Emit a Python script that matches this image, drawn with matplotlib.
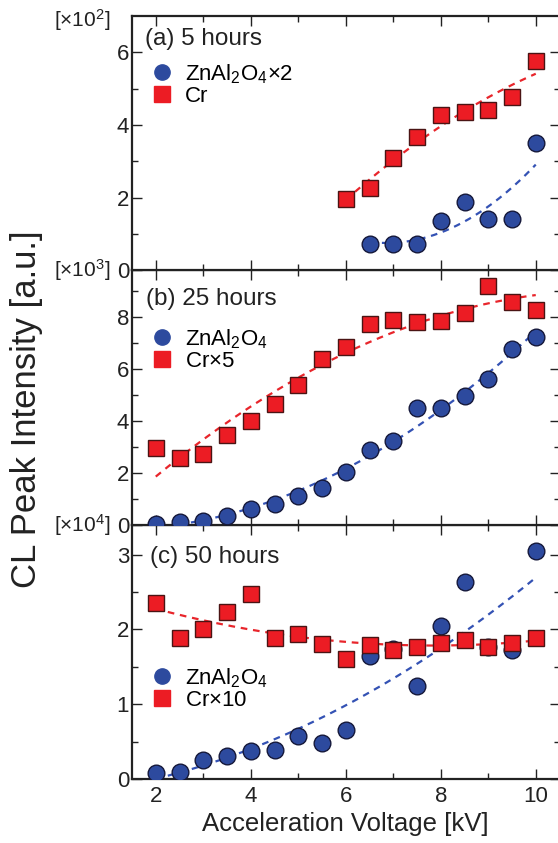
import numpy as np
import matplotlib.pyplot as plt
from matplotlib.lines import Line2D

plt.rcParams['font.family'] = ['Liberation Sans', 'DejaVu Sans']
plt.rcParams['mathtext.fontset'] = 'custom'
plt.rcParams['mathtext.rm'] = 'Liberation Sans'
plt.rcParams['mathtext.it'] = 'Liberation Sans'

# acceleration voltage [kV]
volt_a = [6.0, 6.5, 7.0, 7.5, 8.0, 8.5, 9.0, 9.5, 10.0]
volt = [2.0, 2.5, 3.0, 3.5, 4.0, 4.5, 5.0, 5.5, 6.0, 6.5, 7.0, 7.5, 8.0, 8.5, 9.0, 9.5, 10.0]

# (a) 5 hours  [x10^2]
cr_a = [1.97, 2.26, 3.10, 3.67, 4.29, 4.37, 4.42, 4.78, 5.76]
zn_a = [0.72, 0.72, 0.72, 1.37, 1.87, 1.41, 1.41, 3.51]   # from 6.5 kV

# (b) 25 hours [x10^3]
cr_b = [2.95, 2.57, 2.73, 3.44, 3.98, 4.66, 5.39, 6.39, 6.84, 7.73, 7.88, 7.82,
        7.86, 8.15, 9.20, 8.58, 8.28]
zn_b = [0.04, 0.12, 0.15, 0.32, 0.59, 0.81, 1.12, 1.41, 2.03, 2.86, 3.23, 4.51,
        4.51, 4.97, 5.61, 6.77, 7.25]

# (c) 50 hours [x10^4]
cr_c = [2.35, 1.89, 2.00, 2.23, 2.47, 1.89, 1.94, 1.81, 1.61, 1.79, 1.72, 1.77,
        1.82, 1.86, 1.77, 1.82, 1.89]
zn_c = [0.08, 0.10, 0.26, 0.31, 0.37, 0.39, 0.57, 0.48, 0.65, 1.64, 1.74, 1.24,
        2.04, 2.63, 1.77, 1.73, 3.05]

BLUE = '#2d4a9e'
RED = '#ec1c24'
BLUE_LINE = '#3452b4'
RED_LINE = '#e8252b'
INK = '#222222'


def fit_line(ax, x, y, color):
    # quadratic trend line through the read points
    x = np.asarray(x)
    p = np.polyfit(x, y, 2)
    xs = np.linspace(x.min(), x.max(), 200)
    ys = np.polyval(p, xs)
    ys = np.where(ys < 0, np.nan, ys)
    ax.plot(xs, ys, color=color, lw=1.6, ls=(0, (3.0, 2.6)), zorder=2)


def style_axes(ax, ylim, major, minor, bottom_labels):
    ax.set_xlim(1.5, 10.5)
    ax.set_ylim(*ylim)
    ax.set_xticks([2, 4, 6, 8, 10])
    ax.set_xticks([3, 5, 7, 9], minor=True)
    ax.set_yticks(major)
    ax.set_yticks(minor, minor=True)
    ax.tick_params(which='both', direction='in', top=True, right=True, width=1.0,
                   labelsize=16, colors=INK)
    ax.tick_params(which='major', length=7, pad=2)
    ax.tick_params(which='minor', length=4)
    ax.tick_params(axis='x', pad=5, labelbottom=bottom_labels)
    for s in ax.spines.values():
        s.set_linewidth(1.6)
        s.set_color(INK)


def scatter(ax, x, zn, cr):
    ax.plot(x[-len(zn):], zn, 'o', ms=12, mfc=BLUE, mec='#15183a', mew=1.0,
            zorder=3)
    ax.plot(x[-len(cr):], cr, 's', ms=11.5, mfc=RED, mec='#4a1414', mew=1.0,
            zorder=4)


def legend(ax, zn_label, cr_label, ypos):
    handles = [Line2D([], [], ls='none', marker='o', ms=11, mfc=BLUE, mec=BLUE),
               Line2D([], [], ls='none', marker='s', ms=12, mfc=RED, mec=RED)]
    ax.legend(handles, [zn_label, cr_label], loc='center left',
              bbox_to_anchor=(0.045, ypos), frameon=False, fontsize=16,
              handlelength=1.0, handletextpad=0.5, labelspacing=0.0,
              borderpad=0.0, borderaxespad=0.0)


def panel_text(ax, x, y, label, scale):
    ax.text(x, y, label, transform=ax.transAxes, fontsize=17.5,
            va='center', color=INK)
    ax.text(-0.05, 0.985 if scale == 2 else 1.0,
            r'[$\times$10$^%d$]' % scale, transform=ax.transAxes,
            fontsize=15, ha='right', va='center', color=INK)


fig = plt.figure(figsize=(5.58, 8.43), dpi=100)
L, W, H = 132 / 558, 427.5 / 558, 254.3 / 843
B0 = 64 / 843
ax_c = fig.add_axes([L, B0, W, H])
ax_b = fig.add_axes([L, B0 + H, W, H])
ax_a = fig.add_axes([L, B0 + 2 * H, W, H])

# (a)
fit_line(ax_a, volt_a, cr_a, RED_LINE)
fit_line(ax_a, volt_a[1:], zn_a, BLUE_LINE)
scatter(ax_a, np.array(volt_a), zn_a, cr_a)
style_axes(ax_a, (0, 7), [0, 2, 4, 6], [1, 3, 5], False)
panel_text(ax_a, 0.03, 0.909, '(a) 5 hours', 2)
legend(ax_a, r'ZnAl$_2$O$_4$$\times$2', 'Cr', 0.732)

# (b)
fit_line(ax_b, volt, cr_b, RED_LINE)
fit_line(ax_b, volt, zn_b, BLUE_LINE)
scatter(ax_b, np.array(volt), zn_b, cr_b)
style_axes(ax_b, (0, 9.8), [0, 2, 4, 6, 8], [1, 3, 5, 7, 9], False)
panel_text(ax_b, 0.033, 0.886, '(b) 25 hours', 3)
legend(ax_b, r'ZnAl$_2$O$_4$', r'Cr$\times$5', 0.69)

# (c)
fit_line(ax_c, volt, cr_c, RED_LINE)
fit_line(ax_c, volt, zn_c, BLUE_LINE)
scatter(ax_c, np.array(volt), zn_c, cr_c)
style_axes(ax_c, (0, 3.4), [0, 1, 2, 3], [0.5, 1.5, 2.5], True)
panel_text(ax_c, 0.042, 0.874, '(c) 50 hours', 4)
legend(ax_c, r'ZnAl$_2$O$_4$', r'Cr$\times$10', 0.356)
ax_c.set_xlabel('Acceleration Voltage [kV]', fontsize=18.5, labelpad=4,
                color=INK)

fig.text(0.047, 0.515, 'CL Peak Intensity [a.u.]', rotation=90, ha='center',
         va='center', fontsize=25, color=INK)

fig.savefig('out.png', dpi=100)
